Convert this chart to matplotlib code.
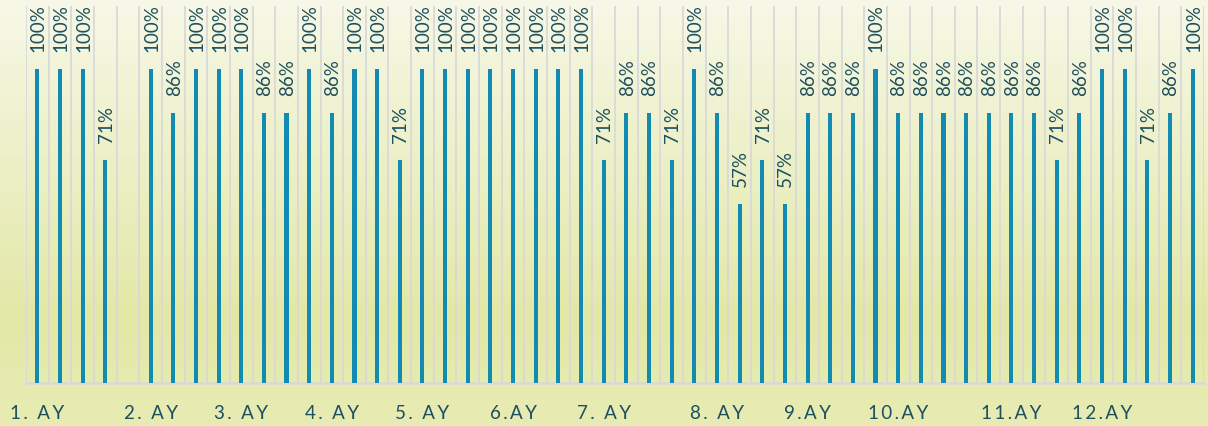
import numpy as np
import matplotlib.pyplot as plt
from matplotlib.colors import LinearSegmentedColormap

OUT_PATH = "out.png"

# pass rate per slot, in percent (None = empty slot)
RATES = [100, 100, 100, 71, None,
         100, 86, 100, 100, 100, 86, 86, 100, 86, 100, 100, 71,
         100, 100, 100, 100, 100, 100, 100, 100,
         71, 86, 86, 71, 100, 86, 57, 71, 57,
         86, 86, 86, 100, 86, 86, 86, 86, 86, 86, 86, 71, 86,
         100, 100, 71, 86, 100]

# month labels and the slot each one sits under
MONTH_LABELS = ["1. AY", "2. AY", "3. AY", "4. AY", "5. AY", "6.AY",
                "7. AY", "8. AY", "9.AY", "10.AY", "11.AY", "12.AY"]
MONTH_POS = [0, 5, 9, 13, 17, 21, 25, 30, 34, 38, 43, 47]

BAR_COLOR = "#138ab2"
TEXT_COLOR = "#1d4f5e"
GRID_COLOR = "#d9d9d9"
FONT = ["Lato", "DejaVu Sans"]


def spaced(s):
    # excel-ish letter spacing
    return "\u2009".join(s)


def draw_background(fig):
    bg = fig.add_axes([0, 0, 1, 1], zorder=-10)
    cmap = LinearSegmentedColormap.from_list(
        "bg", [(0.0, "#f7f8e7"), (0.75, "#e3e8a7"), (1.0, "#e8ecb4")])
    grad = np.linspace(0, 1, 256).reshape(-1, 1)
    bg.imshow(grad, aspect="auto", cmap=cmap, extent=[0, 1, 0, 1], origin="upper")
    bg.set_axis_off()


def main():
    fig = plt.figure(figsize=(12.08, 4.27), dpi=100)
    draw_background(fig)

    ax = fig.add_axes([26 / 1208, 43 / 427, 1178 / 1208, 377 / 427])
    ax.set_facecolor("none")

    n = len(RATES)
    for i, r in enumerate(RATES):
        if r is None:
            continue
        ax.bar(i, r / 100, width=0.18, color=BAR_COLOR, zorder=3)
        ax.text(i + 0.04, r / 100 + 0.057, f"{r}%", rotation=90, ha="center", va="bottom",
                fontsize=13.5, color=TEXT_COLOR, family=FONT, zorder=4)

    ax.set_xlim(-0.5, n - 0.5)
    ax.set_ylim(0, 1.2)
    ax.set_yticks([])

    ax.set_xticks(MONTH_POS)
    ax.set_xticklabels([spaced(m) for m in MONTH_LABELS], fontsize=13.5,
                       color=TEXT_COLOR, family=FONT)
    ax.set_xticks(np.arange(n + 1) - 0.5, minor=True)
    ax.tick_params(axis="x", which="both", length=0, pad=15)
    ax.grid(True, axis="x", which="minor", color=GRID_COLOR, lw=1.3, zorder=1)

    for s in ["top", "left", "right"]:
        ax.spines[s].set_visible(False)
    ax.spines["bottom"].set_color(GRID_COLOR)
    ax.spines["bottom"].set_linewidth(1.8)
    ax.spines["bottom"].set_zorder(2)

    fig.savefig(OUT_PATH, dpi=100)
    plt.close(fig)


if __name__ == "__main__":
    main()
